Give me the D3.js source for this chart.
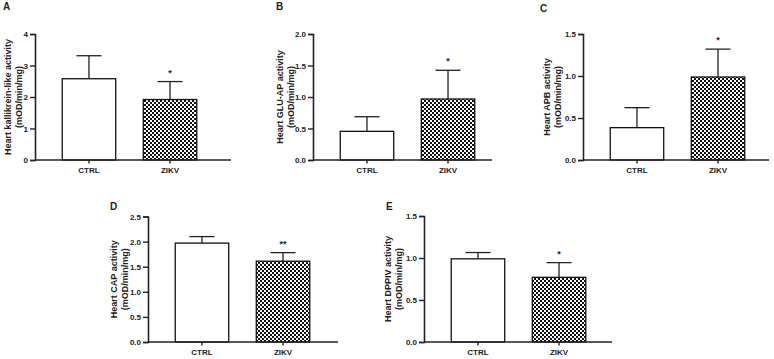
<!DOCTYPE html>
<html>
<head>
<style>
  body{
    margin: 0;
    background: white;
    font-family: 'Liberation Sans', Arial, sans-serif;
  }
  text{ font-weight: bold; fill: #222; }
</style>
</head>
<body>
<svg id='svgVis'></svg>

<script src="https://cdn.jsdelivr.net/npm/d3@7"></script>
<script>

// data
var panels = ["A", "B", "C", "D", "E"];
var groups = ["CTRL", "ZIKV"];
var yTitles = ["Heart kallikrein-like activity", "Heart GLU-AP activity", "Heart APB activity",
               "Heart CAP activity", "Heart DPPIV activity"];
var yUnit = "(mOD/min/mg)";
var ctrlMean = [2.58, 0.455, 0.385, 1.97, 0.99];
var ctrlSd   = [0.73, 0.232, 0.238, 0.13, 0.075];
var zikvMean = [1.92, 0.968, 0.988, 1.61, 0.77];
var zikvSd   = [0.57, 0.456, 0.332, 0.17, 0.175];
var signif   = ["*", "*", "*", "**", "*"];
var yMax     = [4, 2, 1.5, 2.5, 1.5];
var yStep    = [1, 0.5, 0.5, 0.5, 0.5];
var yFormat  = ["d", ".1f", ".1f", ".1f", ".1f"];

// panel placement on the page
var layout = [
  {x0: 35,  x1: 231, top: 34,    bottom: 160, lx: 3,   ly: 10,  tx: -27.5},
  {x0: 313, x1: 492, top: 34,    bottom: 160, lx: 276, ly: 10,  tx: -33},
  {x0: 583, x1: 769, top: 34,    bottom: 160, lx: 540, ly: 12,  tx: -36},
  {x0: 148, x1: 338, top: 216.5, bottom: 342, lx: 110, ly: 210, tx: -34},
  {x0: 424, x1: 612, top: 216,   bottom: 342, lx: 386, ly: 210, tx: -36}
];

var width = 774, height = 359;

var svg = d3.select("#svgVis")
    .attr("width", width)
    .attr("height", height);

var pat = svg.append("defs").append("pattern")
    .attr("id", "checker")
    .attr("patternUnits", "userSpaceOnUse")
    .attr("width", 4)
    .attr("height", 4);
pat.append("rect").attr("width", 4).attr("height", 4).attr("fill", "#fff");
pat.append("rect").attr("width", 2).attr("height", 2).attr("fill", "#111");
pat.append("rect").attr("x", 2).attr("y", 2).attr("width", 2).attr("height", 2).attr("fill", "#111");

panels.forEach(function(p, i) {

  var L = layout[i];
  var g = svg.append("g");

  var x = d3.scaleBand()
    .domain(groups)
    .range([L.x0, L.x0 + 189])
    .paddingInner(0.34)
    .paddingOuter(0.336);

  var y = d3.scaleLinear()
    .domain([0, yMax[i]])
    .range([L.bottom, L.top]);

  var rows = [
    {name: "CTRL", mean: ctrlMean[i], sd: ctrlSd[i], fill: "#fff"},
    {name: "ZIKV", mean: zikvMean[i], sd: zikvSd[i], fill: "url(#checker)"}
  ];

  // error bars (upper only)
  rows.forEach(function(d) {
    var cx = x(d.name) + x.bandwidth() / 2;
    g.append("line")
      .attr("x1", cx).attr("x2", cx)
      .attr("y1", y(d.mean)).attr("y2", y(d.mean + d.sd))
      .attr("stroke", "#222").attr("stroke-width", 1.3);
    g.append("line")
      .attr("x1", cx - 12.5).attr("x2", cx + 12.5)
      .attr("y1", y(d.mean + d.sd)).attr("y2", y(d.mean + d.sd))
      .attr("stroke", "#222").attr("stroke-width", 1.3);
  });

  g.selectAll("rect.bar")
    .data(rows)
    .enter()
    .append("rect")
    .attr("class", "bar")
    .attr("x", function(d) { return x(d.name); })
    .attr("y", function(d) { return y(d.mean); })
    .attr("width", x.bandwidth())
    .attr("height", function(d) { return L.bottom - y(d.mean); })
    .attr("fill", function(d) { return d.fill; })
    .attr("stroke", "#111")
    .attr("stroke-width", 1.3);

  // significance mark over ZIKV
  var z = rows[1];
  g.append("text")
    .attr("x", x("ZIKV") + x.bandwidth() / 2)
    .attr("y", y(z.mean + z.sd) - 6)
    .attr("text-anchor", "middle")
    .style("font-size", "9px")
    .text(signif[i]);

  // y axis
  var ticks = d3.range(0, yMax[i] + 1e-9, yStep[i]);
  var yAxis = g.append("g")
    .attr("transform", "translate(" + L.x0 + ",0)")
    .call(d3.axisLeft(y).tickValues(ticks).tickFormat(d3.format(yFormat[i])).tickSize(5).tickPadding(2));
  yAxis.select(".domain").attr("stroke", "#222").attr("stroke-width", 1.6);
  yAxis.selectAll(".tick line").attr("stroke", "#222").attr("stroke-width", 1.4);
  yAxis.selectAll(".tick text").style("font-size", "8px").attr("fill", "#222");

  // x axis
  g.append("line")
    .attr("x1", L.x0).attr("x2", L.x1)
    .attr("y1", L.bottom).attr("y2", L.bottom)
    .attr("stroke", "#222").attr("stroke-width", 1.6);

  groups.forEach(function(c) {
    var cx = x(c) + x.bandwidth() / 2;
    g.append("line")
      .attr("x1", cx).attr("x2", cx)
      .attr("y1", L.bottom).attr("y2", L.bottom + 3.5)
      .attr("stroke", "#222").attr("stroke-width", 1.4);
    g.append("text")
      .attr("x", cx)
      .attr("y", L.bottom + 13)
      .attr("text-anchor", "middle")
      .style("font-size", "8px")
      .text(c);
  });

  // y title
  var midY = (L.top + L.bottom) / 2;
  var title = g.append("text")
    .attr("transform", "translate(" + (L.x0 + L.tx) + "," + midY + ") rotate(-90)")
    .attr("text-anchor", "middle")
    .style("font-size", "9px");
  title.append("tspan").attr("x", 0).attr("y", 3).text(yTitles[i]);
  title.append("tspan").attr("x", 0).attr("y", 14).text(yUnit);

  // panel letter
  g.append("text")
    .attr("x", L.lx)
    .attr("y", L.ly)
    .style("font-size", "10px")
    .text(p);
});

</script>
</body>
</html>
